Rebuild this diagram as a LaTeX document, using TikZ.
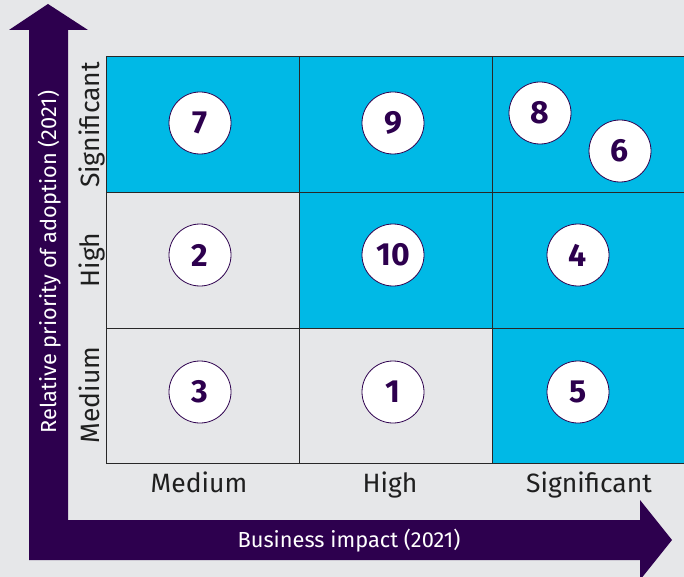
\documentclass[tikz,border=0pt]{standalone}
\usepackage{fontspec}
\setmainfont{Fira Sans}
\definecolor{bgGrey}{RGB}{230,231,233}
\definecolor{cellCyan}{RGB}{0,185,230}
\definecolor{darkPurple}{RGB}{45,0,78}
\definecolor{gridLine}{RGB}{40,40,40}
\begin{document}
\begin{tikzpicture}[x=1pt, y=-1pt,
    bubble/.style={circle, draw=darkPurple, line width=0.8pt, fill=white, minimum size=62pt, inner sep=0pt,
      text=darkPurple, font=\fontsize{32}{32}\selectfont\bfseries},
    levellabel/.style={text=black!88, font=\fontsize{26.5}{26.5}\selectfont, inner sep=0pt},
    axislabel/.style={text=white, font=\fontsize{21.8}{21.8}\selectfont, inner sep=0pt}]
          \useasboundingbox (0,0) rectangle (684,577);
          \fill[bgGrey] (0,0) rectangle (684,577);

          % axes
          \fill[darkPurple] (29,560) -- (29,30) -- (9,30) -- (48,4) -- (88,30) -- (68,30)
            -- (68,520) -- (640,520) -- (640,500) -- (672,540) -- (640,580) -- (640,560) -- cycle;

          % cells
          \fill[cellCyan] (106,57) rectangle (684,192.5);
          \fill[cellCyan] (299,192.5) rectangle (684,328);
          \fill[cellCyan] (492,328) rectangle (684,463);
          %\fill[bgGrey] (106,192.5) rectangle (299,463);
          \draw[gridLine, line width=1pt] (106,57) -- (684,57);
          \draw[gridLine, line width=1pt] (106,192.5) -- (684,192.5);
          \draw[gridLine, line width=1pt] (106,328) -- (684,328);
          \draw[gridLine, line width=1pt] (106,463) -- (684,463);
          \draw[gridLine, line width=1pt] (106,57) -- (106,463);
          \draw[gridLine, line width=1pt] (299,57) -- (299,463);
          \draw[gridLine, line width=1pt] (492,57) -- (492,463);

          \node[bubble] (n7) at (200,123) {7};
          \node[bubble] (n9) at (393,123) {9};
          \node[bubble] (n8) at (540,113) {8};
          \node[bubble] (n6) at (620,151) {6};
          \node[bubble] (n2) at (200,255) {2};
          \node[bubble] (n10) at (393,255) {10};
          \node[bubble] (n4) at (578,255) {4};
          \node[bubble] (n3) at (200,392) {3};
          \node[bubble] (n1) at (393,392) {1};
          \node[bubble] (n5) at (578,392) {5};

          \node[levellabel, anchor=base] (colMedium) at (199,492) {Medium};
          \node[levellabel, anchor=base] (colHigh) at (390,492) {High};
          \node[levellabel, anchor=base] (colSignificant) at (589,492) {Significant};

          \node[levellabel, anchor=base, rotate=90] (rowSignificant) at (99,125) {Significant};
          \node[levellabel, anchor=base, rotate=90] (rowHigh) at (99,260) {High};
          \node[levellabel, anchor=base, rotate=90] (rowMedium) at (99,395) {Medium};

          \node[axislabel, anchor=base] (xTitle) at (349,547) {Business impact (2021)};
          \node[axislabel, anchor=base, rotate=90] (yTitle) at (56,262) {Relative priority of adoption (2021)};

        \end{tikzpicture}
\end{document}
